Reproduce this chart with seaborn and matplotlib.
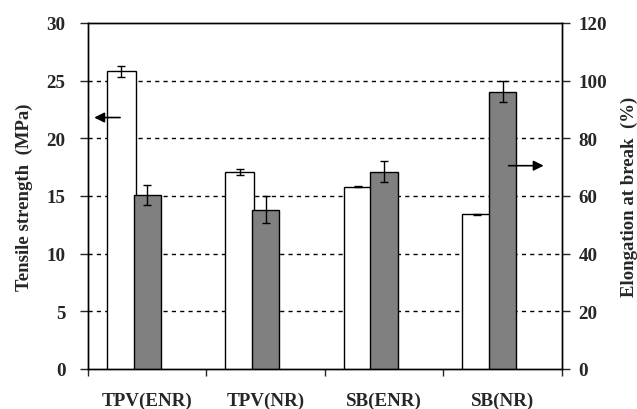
import numpy as np
import pandas as pd
import matplotlib
matplotlib.use('Agg')
import matplotlib.pyplot as plt
import seaborn as sns

# Data
samples = ['TPV(ENR)', 'TPV(NR)', 'SB(ENR)', 'SB(NR)']
tensile = [25.8, 17.05, 15.8, 13.4]          # MPa, left axis
tensile_err = [0.5, 0.25, 0.05, 0.05]
elongation = [60.3, 55.3, 68.4, 96.2]        # %, right axis
elongation_err = [3.6, 4.7, 3.7, 3.7]

df = pd.DataFrame({'Sample': samples, 'Tensile': tensile, 'Elongation': elongation})

sns.set_style('white')
plt.rcParams['font.family'] = ['Liberation Serif', 'DejaVu Serif']
plt.rcParams['font.weight'] = 'bold'

fig = plt.figure(figsize=(6.37, 4.10), dpi=100)
ax = fig.add_axes([0.138, 0.0976, 0.744, 0.844])
ax2 = ax.twinx()

x = np.arange(len(samples))

# elongation bars (grey, right axis) centred in each category
sns.barplot(data=df, x='Sample', y='Elongation', ax=ax2, color='#808080',
            width=0.23, edgecolor='black', linewidth=1, saturation=1, errorbar=None)
ax2.errorbar(x, df['Elongation'], yerr=elongation_err, fmt='none', ecolor='black',
             elinewidth=1, capsize=3, capthick=1)

# tensile bars (white, left axis) shifted to the left
ax.bar(x - 0.22, df['Tensile'], width=0.245, color='white', edgecolor='black',
       linewidth=1, zorder=3)
ax.errorbar(x - 0.22, df['Tensile'], yerr=tensile_err, fmt='none', ecolor='black',
            elinewidth=1, capsize=3, capthick=1, zorder=4)

ax.set_ylim(0, 30)
ax2.set_ylim(0, 120)
ax.set_xlim(-0.5, len(samples) - 0.5)
ax2.set_xlim(-0.5, len(samples) - 0.5)
ax.set_yticks(np.arange(0, 31, 5))
ax2.set_yticks(np.arange(0, 121, 20))

# dashed gridlines on the left axis
for v in np.arange(5, 30, 5):
    ax.axhline(v, color='black', linestyle=(0, (3, 3)), linewidth=1, zorder=1)

# x ticks at category boundaries, labels at centres
ax.set_xticks(np.arange(-0.5, len(samples), 1.0))
ax.set_xticklabels([])
ax.set_xticks(x, minor=True)
ax.set_xticklabels(samples, minor=True)
ax.tick_params(axis='x', which='major', direction='out', length=5, width=1, bottom=True)
ax.tick_params(axis='x', which='minor', length=0, pad=16, labelsize=13.7)
ax2.set_xlabel('')
ax2.tick_params(axis='x', bottom=False, labelbottom=False)

ax.tick_params(axis='y', direction='out', length=6, width=1, pad=10, labelsize=13.7, left=True)
ax2.tick_params(axis='y', direction='out', length=6, width=1, pad=6, labelsize=13.7, right=True)

ax.set_ylabel('Tensile strength  (MPa)', fontsize=13.5, fontweight='bold', labelpad=10)
ax2.set_ylabel('Elongation at break  (%)', fontsize=13.5, fontweight='bold', labelpad=10)

for a in (ax, ax2):
    for s in a.spines.values():
        s.set_visible(True)
        s.set_color('black')
        s.set_linewidth(1)

# direction arrows
ax.annotate('', xy=(-0.47, 21.8), xytext=(-0.205, 21.8),
            arrowprops=dict(arrowstyle='-|>', color='black', lw=1.2, mutation_scale=15))
ax2.annotate('', xy=(3.37, 70.5), xytext=(3.027, 70.5),
             arrowprops=dict(arrowstyle='-|>', color='black', lw=1.2, mutation_scale=15))

fig.savefig('out.png', dpi=100)
